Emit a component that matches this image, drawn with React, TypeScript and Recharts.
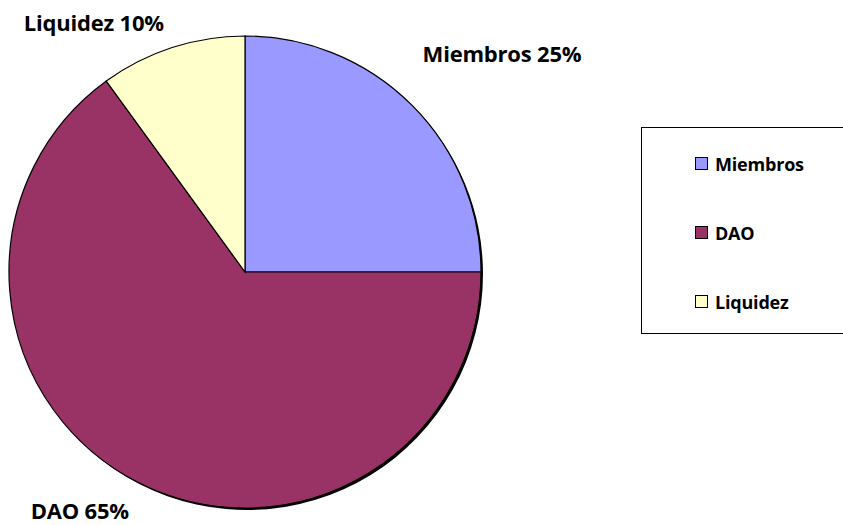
import { PieChart, Pie, Cell, Legend } from "recharts"

const CATEGORIES = ["Miembros", "DAO", "Liquidez"]
const SHARES = [25, 65, 10]

const COLORS: Record<string, string> = {
  Miembros: "#9999FF",
  DAO: "#993366",
  Liquidez: "#FFFFCC",
}

// extra push for each label away from its default spot, like Excel's best fit
const LABEL_NUDGE: Record<string, [number, number]> = {
  Miembros: [76, -38],
  DAO: [-49, 10],
  Liquidez: [-72, -7],
}

const data = CATEGORIES.map((name, i) => ({ name, value: SHARES[i] }))

const FONT = "'Open Sans', 'Liberation Sans', sans-serif"
const RAD = Math.PI / 180

function renderLabel(props: any) {
  const { cx, cy, midAngle, outerRadius, name, percent } = props
  const r = outerRadius + 20
  const [nx, ny] = LABEL_NUDGE[name] ?? [0, 0]
  const x = cx + r * Math.cos(-midAngle * RAD) + nx
  const y = cy + r * Math.sin(-midAngle * RAD) + ny
  return (
    <text
      x={x}
      y={y}
      textAnchor="middle"
      dominantBaseline="central"
      fontFamily={FONT}
      fontWeight={700}
      fontSize={22}
      letterSpacing={-0.2}
      fill="#000"
    >
      {`${name} ${Math.round(percent * 100)}%`}
    </text>
  )
}

function LegendBox() {
  return (
    <div
      style={{
        width: 210,
        height: 207,
        border: "1px solid #000",
        background: "#fff",
        boxSizing: "border-box",
        paddingTop: 1,
        fontFamily: FONT,
        fontWeight: 700,
        fontSize: 18,
        letterSpacing: -0.2,
      }}
    >
      {CATEGORIES.map((c) => (
        <div key={c} style={{ display: "flex", alignItems: "center", height: 69, paddingLeft: 53 }}>
          <span
            style={{
              width: 11,
              height: 11,
              background: COLORS[c],
              border: "1px solid #000",
              marginRight: 7,
              display: "inline-block",
            }}
          />
          <span>{c}</span>
        </div>
      ))}
    </div>
  )
}

export default function App() {
  return (
    <div style={{ position: "absolute", left: 0, top: 0, width: 843, height: 525, background: "#fff" }}>
      <PieChart width={843} height={525} margin={{ top: 0, right: 0, bottom: 0, left: 0 }}>
        {/* dark shadow under the pie */}
        <Pie
          data={data}
          dataKey="value"
          nameKey="name"
          cx={247}
          cy={274}
          outerRadius={236}
          startAngle={90}
          endAngle={-270}
          fill="#000"
          stroke="none"
          isAnimationActive={false}
          legendType="none"
        />
        <Pie
          data={data}
          dataKey="value"
          nameKey="name"
          cx={245}
          cy={272}
          outerRadius={236}
          startAngle={90}
          endAngle={-270}
          stroke="#000"
          strokeWidth={1.2}
          label={renderLabel}
          labelLine={false}
          isAnimationActive={false}
        >
          {data.map((d) => (
            <Cell key={d.name} fill={COLORS[d.name]} />
          ))}
        </Pie>
        <Legend
          content={() => <LegendBox />}
          wrapperStyle={{ left: 641, top: 127, width: 210 }}
        />
      </PieChart>
    </div>
  )
}
